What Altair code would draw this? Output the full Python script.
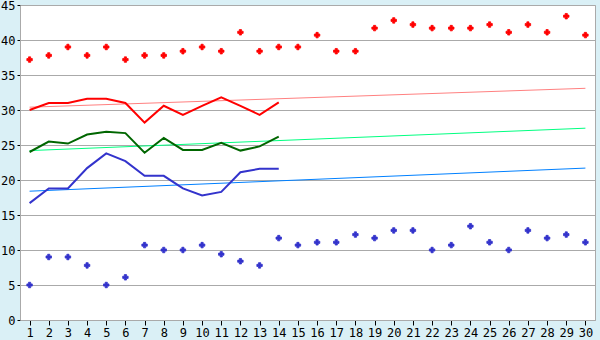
import altair as alt
import pandas as pd

days = list(range(1, 31))
red_pts = [37.2, 37.8, 39, 37.8, 39, 37.2, 37.8, 37.8, 38.4, 39,
           38.4, 41.1, 38.4, 39, 39, 40.7, 38.4, 38.4, 41.7, 42.8,
           42.2, 41.7, 41.7, 41.7, 42.2, 41.1, 42.2, 41.1, 43.4, 40.7]
blue_pts = [5, 9, 9, 7.8, 5, 6.1, 10.7, 10, 10, 10.7,
            9.4, 8.4, 7.8, 11.7, 10.7, 11.1, 11.1, 12.2, 11.7, 12.8,
            12.8, 10, 10.7, 13.4, 11.1, 10, 12.8, 11.7, 12.2, 11.1]
line_days = list(range(1, 15))
red_line = [30, 31, 31, 31.6, 31.6, 31, 28.2, 30.6, 29.3, 30.6, 31.8, 30.6, 29.3, 31.1]
green_line = [24, 25.5, 25.2, 26.5, 26.9, 26.7, 23.9, 26, 24.3, 24.3, 25.3, 24.2, 24.8, 26.2]
blue_line = [16.7, 18.8, 18.8, 21.7, 23.8, 22.7, 20.6, 20.6, 18.8, 17.8, 18.3, 21.1, 21.6, 21.6]
trend_days = [1, 30]
red_trend = [30.4, 33.1]
green_trend = [24.2, 27.4]
blue_trend = [18.4, 21.7]

pts = pd.DataFrame(
    [{"d": d, "v": v, "s": "red"} for d, v in zip(days, red_pts)]
    + [{"d": d, "v": v, "s": "blue"} for d, v in zip(days, blue_pts)]
)
lines = pd.DataFrame(
    [{"d": d, "v": v, "s": "red"} for d, v in zip(line_days, red_line)]
    + [{"d": d, "v": v, "s": "green"} for d, v in zip(line_days, green_line)]
    + [{"d": d, "v": v, "s": "blue"} for d, v in zip(line_days, blue_line)]
)
trends = pd.DataFrame(
    [{"d": d, "v": v, "s": "red"} for d, v in zip(trend_days, red_trend)]
    + [{"d": d, "v": v, "s": "green"} for d, v in zip(trend_days, green_trend)]
    + [{"d": d, "v": v, "s": "blue"} for d, v in zip(trend_days, blue_trend)]
)

xs = alt.X("d:Q", scale=alt.Scale(domain=[0.5, 30.5], nice=False, zero=False),
           axis=alt.Axis(values=days, grid=False, title=None, tickSize=5,
                         labelFontSize=12, labelColor="#000", tickColor="#000",
                         domainColor="#aaaaaa", labelPadding=2, labelFlush=False))
ys = alt.Y("v:Q", scale=alt.Scale(domain=[0, 45], nice=False),
           axis=alt.Axis(values=list(range(0, 50, 5)), title=None, tickSize=3,
                         labelFontSize=12, labelColor="#000", tickColor="#000",
                         gridColor="#aaaaaa", domainColor="#aaaaaa", labelPadding=2))

trend_layer = alt.Chart(trends).mark_line(strokeWidth=1, interpolate="linear").encode(
    x=xs, y=ys, detail="s:N",
    color=alt.Color("s:N", scale=alt.Scale(domain=["red", "green", "blue"],
                                            range=["#ff8080", "#00ff80", "#0080ff"]), legend=None))
line_layer = alt.Chart(lines).mark_line(strokeWidth=2).encode(
    x=xs, y=ys, detail="s:N",
    color=alt.Color("s:N", scale=alt.Scale(domain=["red", "green", "blue"],
                                            range=["#ff0000", "#006600", "#3333cc"]), legend=None))
pt_layer = alt.Chart(pts).mark_point(shape="cross", filled=True, size=30, opacity=1,
                                     strokeWidth=0.8).encode(
    x=xs, y=ys,
    color=alt.Color("s:N", scale=alt.Scale(domain=["red", "blue"],
                                            range=["#ff0000", "#3333cc"]), legend=None),
    stroke=alt.Color("s:N", scale=alt.Scale(domain=["red", "blue"],
                                             range=["#ff0000", "#3333cc"]), legend=None))

chart = alt.layer(trend_layer, line_layer, pt_layer).resolve_scale(color="independent").properties(
    width=575, height=315,
    autosize=alt.AutoSizeParams(type="none"),
    padding={"left": 20, "top": 5, "right": 5, "bottom": 20},
    background="#daf0f6",
).configure_view(fill="white", stroke="#aaaaaa", strokeWidth=1).configure_axis(
    labelFont="DejaVu Sans Mono")

chart.save("out.html", embed_options={"renderer": "svg", "actions": False})
